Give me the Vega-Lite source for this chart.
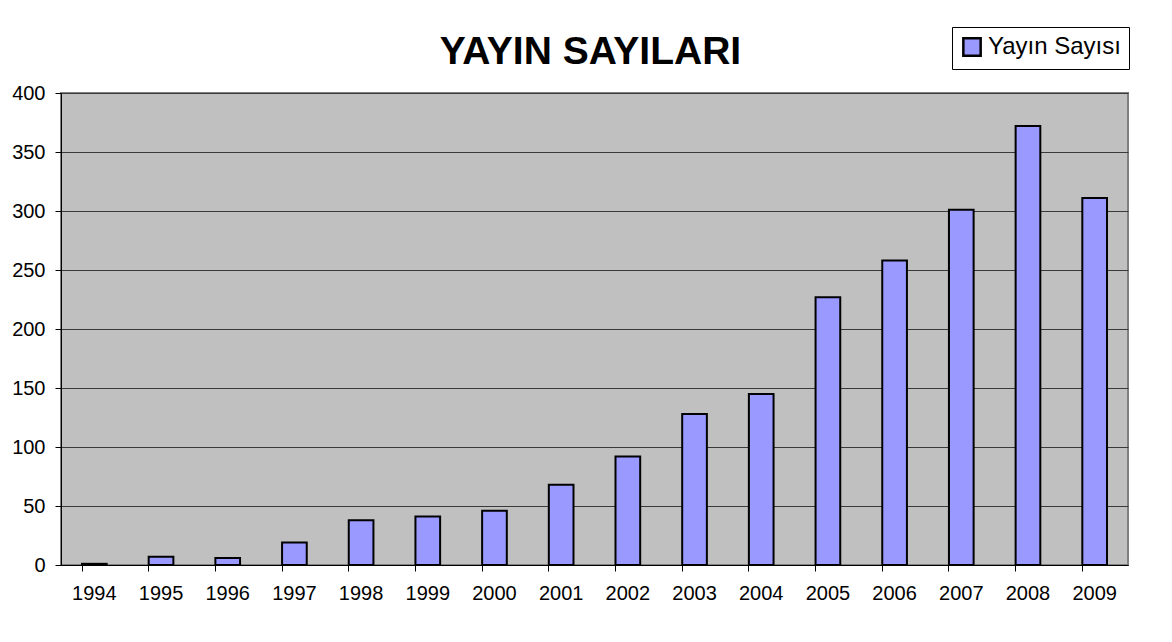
{
  "$schema": "https://vega.github.io/schema/vega-lite/v6.json",
  "width": 1067,
  "height": 472,
  "autosize": {"type": "none"},
  "padding": {"left": 61, "top": 93, "right": 44, "bottom": 77},
  "background": "#ffffff",
  "title": {
    "text": "YAYIN SAYILARI",
    "font": "Liberation Sans",
    "fontSize": 39,
    "fontWeight": "bold",
    "color": "#000000",
    "anchor": "middle",
    "offset": 14,
    "dy": 59,
    "dx": -4
  },
  "data": {
    "values": [
      {"yil": "1994", "sayi": 1, "seri": "Yayın Sayısı"},
      {"yil": "1995", "sayi": 7, "seri": "Yayın Sayısı"},
      {"yil": "1996", "sayi": 6, "seri": "Yayın Sayısı"},
      {"yil": "1997", "sayi": 19, "seri": "Yayın Sayısı"},
      {"yil": "1998", "sayi": 38, "seri": "Yayın Sayısı"},
      {"yil": "1999", "sayi": 41, "seri": "Yayın Sayısı"},
      {"yil": "2000", "sayi": 46, "seri": "Yayın Sayısı"},
      {"yil": "2001", "sayi": 68, "seri": "Yayın Sayısı"},
      {"yil": "2002", "sayi": 92, "seri": "Yayın Sayısı"},
      {"yil": "2003", "sayi": 128, "seri": "Yayın Sayısı"},
      {"yil": "2004", "sayi": 145, "seri": "Yayın Sayısı"},
      {"yil": "2005", "sayi": 227, "seri": "Yayın Sayısı"},
      {"yil": "2006", "sayi": 258, "seri": "Yayın Sayısı"},
      {"yil": "2007", "sayi": 301, "seri": "Yayın Sayısı"},
      {"yil": "2008", "sayi": 372, "seri": "Yayın Sayısı"},
      {"yil": "2009", "sayi": 311, "seri": "Yayın Sayısı"}
    ]
  },
  "mark": {"type": "bar", "stroke": "#000000", "strokeWidth": 2},
  "encoding": {
    "x": {
      "field": "yil",
      "type": "ordinal",
      "scale": {"paddingInner": 0.63, "paddingOuter": 0.315},
      "axis": {
        "title": null,
        "labelAngle": 0,
        "bandPosition": 0,
        "labelFont": "Liberation Sans",
        "labelFontSize": 20,
        "labelColor": "#000000",
        "labelPadding": 12,
        "tickSize": 6,
        "tickColor": "#000000",
        "domainColor": "#000000",
        "domainWidth": 1,
        "grid": false
      }
    },
    "y": {
      "field": "sayi",
      "type": "quantitative",
      "scale": {"domain": [0, 400], "nice": false},
      "axis": {
        "title": null,
        "values": [0, 50, 100, 150, 200, 250, 300, 350, 400],
        "labelFont": "Liberation Sans",
        "labelFontSize": 20,
        "labelColor": "#000000",
        "labelPadding": 10,
        "tickSize": 6,
        "tickColor": "#000000",
        "domainColor": "#000000",
        "grid": true,
        "gridColor": "#3a3a3a",
        "gridWidth": 1
      }
    },
    "color": {
      "field": "seri",
      "type": "nominal",
      "scale": {"range": ["#9999FF"]},
      "legend": {
        "title": null,
        "orient": "none",
        "legendX": 891,
        "legendY": -66,
        "symbolType": "square",
        "symbolSize": 300,
        "symbolStrokeColor": "#000000",
        "symbolStrokeWidth": 2.5,
        "symbolFillColor": "#9999FF",
        "labelFont": "Liberation Sans",
        "labelFontSize": 24,
        "labelColor": "#000000",
        "labelOffset": 4,
        "padding": 8,
        "strokeColor": "#000000",
        "fillColor": "#ffffff"
      }
    }
  },
  "config": {
    "view": {"fill": "#C0C0C0", "stroke": "#808080", "strokeWidth": 2}
  }
}
